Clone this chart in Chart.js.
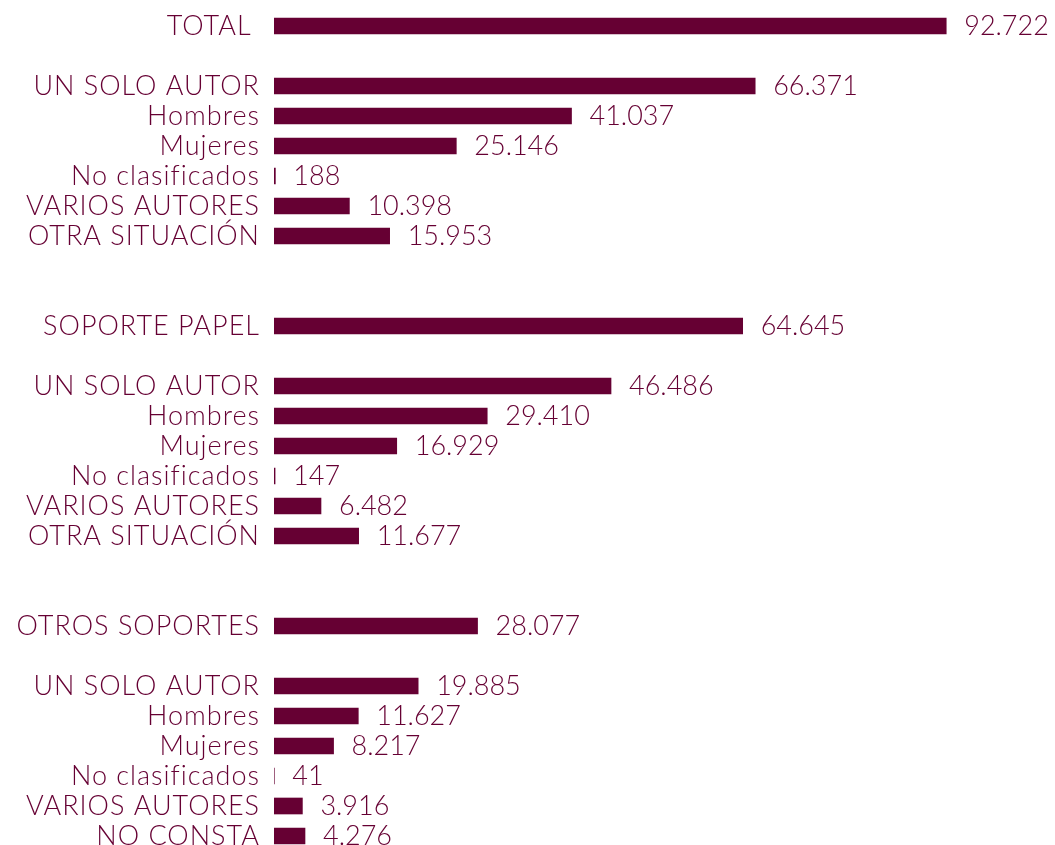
<!DOCTYPE html>
<html>
<head>
<meta charset="utf-8">
<script src="https://cdn.jsdelivr.net/npm/chart.js@4.4.0/dist/chart.umd.min.js"></script>
<style>
  html, body { margin: 0; padding: 0; background: #fff; overflow: hidden; }
</style>
</head>
<body>
<canvas id="grafico" width="1055" height="851"></canvas>
<script>
// Categorias (las vacias son huecos entre bloques)
const categorias = [
    "TOTAL ", "",
    "UN SOLO AUTOR", "Hombres", "Mujeres", "No clasificados", "VARIOS AUTORES", "OTRA SITUACIÓN",
    "", "",
    "SOPORTE PAPEL", "",
    "UN SOLO AUTOR", "Hombres", "Mujeres", "No clasificados", "VARIOS AUTORES", "OTRA SITUACIÓN",
    "", "",
    "OTROS SOPORTES", "",
    "UN SOLO AUTOR", "Hombres", "Mujeres", "No clasificados", "VARIOS AUTORES", "NO CONSTA"
];

// Valores de cada fila (null = hueco)
const valores = [
    92722, null,
    66371, 41037, 25146, 188, 10398, 15953,
    null, null,
    64645, null,
    46486, 29410, 16929, 147, 6482, 11677,
    null, null,
    28077, null,
    19885, 11627, 8217, 41, 3916, 4276
];

const colorBarra = "#660033";
const colorTexto = "#660033";
const fuente = { family: "Lato", size: 27, weight: "300" };

// formato con punto de miles
function formatear(n) {
    return String(n).replace(/\B(?=(\d{3})+(?!\d))/g, ".");
}

// la letra del original es mas ancha, le damos un poco de espacio
const espaciado = {
    id: "espaciado",
    beforeDraw(chart) {
        chart.ctx.letterSpacing = "1px";
    }
};

// plugin para poner el numero al final de cada barra
const etiquetasValor = {
    id: "etiquetasValor",
    afterDatasetsDraw(chart) {
        const ctx = chart.ctx;
        const meta = chart.getDatasetMeta(0);
        ctx.save();
        ctx.letterSpacing = "0px";
        ctx.font = fuente.weight + " " + fuente.size + "px " + fuente.family;
        ctx.fillStyle = colorTexto;
        ctx.textAlign = "left";
        ctx.textBaseline = "middle";
        meta.data.forEach((barra, i) => {
            const v = valores[i];
            if (v === null) return;
            ctx.fillText(formatear(v), barra.x + 18, barra.y);
        });
        ctx.restore();
    }
};

const ctx = document.getElementById("grafico").getContext("2d");
const grafico = new Chart(ctx, {
    type: "bar",
    data: {
        labels: categorias,
        datasets: [{
            data: valores,
            backgroundColor: colorBarra,
            borderWidth: 0,
            barThickness: 16
        }]
    },
    options: {
        indexAxis: "y",
        responsive: false,
        animation: false,
        devicePixelRatio: 1,
        layout: { padding: { top: 11, right: 56, bottom: 0, left: 0 } },
        plugins: {
            legend: { display: false },
            tooltip: { enabled: false }
        },
        scales: {
            x: {
                display: false,
                min: 0,
                max: 100000
            },
            y: {
                grid: { display: false, drawTicks: false },
                border: { display: false },
                ticks: {
                    color: colorTexto,
                    font: fuente,
                    padding: 14,
                    autoSkip: false
                },
                afterFit(scale) {
                    scale.width = 274;
                    scale.paddingTop = 0;
                    scale.paddingBottom = 0;
                }
            }
        }
    },
    plugins: [espaciado, etiquetasValor]
});
</script>
</body>
</html>
